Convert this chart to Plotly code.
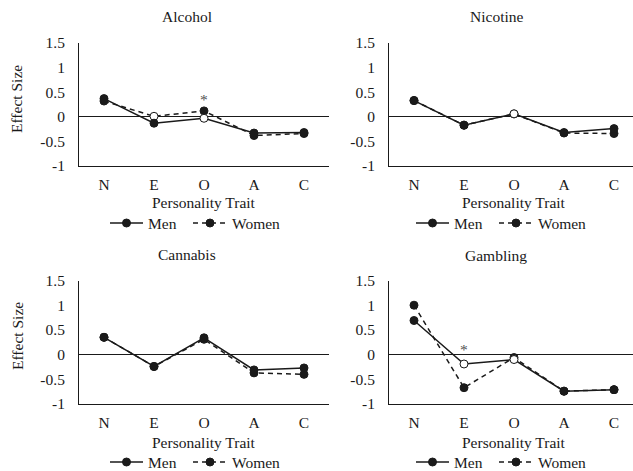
import plotly.graph_objects as go

traits = ["N", "E", "O", "A", "C"]
panels = ["Alcohol", "Nicotine", "Cannabis", "Gambling"]

alcohol_men = [0.37, -0.13, -0.03, -0.33, -0.32]
alcohol_women = [0.32, 0.01, 0.12, -0.38, -0.34]
nicotine_men = [0.33, -0.17, 0.06, -0.32, -0.24]
nicotine_women = [0.33, -0.17, 0.06, -0.33, -0.34]
cannabis_men = [0.35, -0.24, 0.34, -0.31, -0.27]
cannabis_women = [0.35, -0.24, 0.31, -0.37, -0.40]
gambling_men = [0.69, -0.19, -0.10, -0.74, -0.71]
gambling_women = [1.00, -0.67, -0.06, -0.74, -0.71]

# True = significant (filled marker), False = non-significant (open marker)
alcohol_men_sig = [True, True, False, True, True]
alcohol_women_sig = [True, False, True, True, True]
nicotine_men_sig = [True, True, False, True, True]
nicotine_women_sig = [True, True, False, True, True]
cannabis_men_sig = [True, True, True, True, True]
cannabis_women_sig = [True, True, True, True, True]
gambling_men_sig = [True, False, False, True, True]
gambling_women_sig = [True, True, True, True, True]

# sex-difference asterisks: (panel, trait, y)
asterisks = [("Alcohol", "O", 0.35), ("Gambling", "E", 0.10)]

ytick_vals = [-1, -0.5, 0, 0.5, 1, 1.5]
ytick_text = ["-1", "-0.5", "0", "0.5", "1", "1.5"]
series_names = ["Men", "Women"]

men = [alcohol_men, nicotine_men, cannabis_men, gambling_men]
women = [alcohol_women, nicotine_women, cannabis_women, gambling_women]
men_sig = [alcohol_men_sig, nicotine_men_sig, cannabis_men_sig, gambling_men_sig]
women_sig = [alcohol_women_sig, nicotine_women_sig, cannabis_women_sig, gambling_women_sig]

W, H = 633, 471
FONT = "Liberation Serif"
FS = 15.5
INK = "#1a1a1a"
DASH = "5px,4px"


def px_x(p):
    return p / W


def px_y(p):
    return 1 - p / H


# layout geometry (pixels)
x_dom = [(79, 329), (389, 633), (79, 329), (389, 633)]
y_dom = [(43, 166), (43, 166), (280.5, 404), (280.5, 404)]
x_ranges = [[-0.5, 4.5], [-0.5, 4.38], [-0.5, 4.5], [-0.5, 4.38]]
title_pos = [(187, 17), (496, 17), (187, 254), (496, 255)]
xtitle_pos = [(204, 202), (514, 202), (204, 442), (514, 442)]
ytitle_pos = [(17, 99), None, (17, 336), None]
legend_pos = [(110, 223), (416, 223), (110, 462), (416, 462)]

fig = go.Figure()
layout = dict(
    template="none",
    width=W, height=H, margin=dict(l=0, r=0, t=0, b=0, pad=0, autoexpand=False),
    paper_bgcolor="white", plot_bgcolor="white",
    font=dict(family=FONT, size=FS, color=INK),
    showlegend=False,
    annotations=[], shapes=[],
)


def text(s, x, y, anchor="center", angle=0, color=INK):
    layout["annotations"].append(dict(
        text=s, x=px_x(x), y=px_y(y), xref="paper", yref="paper",
        showarrow=False, xanchor=anchor, yanchor="middle", textangle=angle,
        font=dict(size=FS, family=FONT, color=color)))


def legend_item(x0, y, length, dash, label):
    layout["shapes"].append(dict(
        type="line", xref="paper", yref="paper",
        x0=px_x(x0), x1=px_x(x0 + length), y0=px_y(y), y1=px_y(y),
        line=dict(color=INK, width=1.5, dash=dash)))
    cx = x0 + length / 2
    layout["shapes"].append(dict(
        type="circle", xref="paper", yref="paper",
        x0=px_x(cx - 4), x1=px_x(cx + 4), y0=px_y(y + 4), y1=px_y(y - 4),
        fillcolor=INK, line=dict(color=INK, width=1)))
    text(label, x0 + length + 3, y, anchor="left")


for i, name in enumerate(panels):
    ax = "" if i == 0 else str(i + 1)
    xa, ya = "x" + ax, "y" + ax
    for label, vals, sig, dash in [
        ("Women", women[i], women_sig[i], DASH),
        ("Men", men[i], men_sig[i], "solid"),
    ]:
        fig.add_trace(go.Scatter(
            x=traits, y=vals, name=label, mode="lines+markers",
            xaxis=xa, yaxis=ya,
            line=dict(color=INK, width=1.5, dash=dash),
            marker=dict(size=8, color=[INK if s else "white" for s in sig],
                        line=dict(color=INK, width=1)),
            cliponaxis=False, hoverinfo="skip",
        ))
    layout["xaxis" + ax] = dict(
        domain=[px_x(x_dom[i][0]), px_x(x_dom[i][1])],
        anchor=ya, type="category", categoryorder="array", categoryarray=traits,
        range=x_ranges[i], showline=True, linecolor=INK, linewidth=1,
        showgrid=False, zeroline=False, ticks="", ticklabelstandoff=4,
        automargin=False,
        tickfont=dict(size=FS, family=FONT, color=INK), fixedrange=True,
    )
    layout["yaxis" + ax] = dict(
        domain=[px_y(y_dom[i][1]), px_y(y_dom[i][0])],
        anchor=xa, range=[-1, 1.5], tickvals=ytick_vals, ticktext=ytick_text,
        showline=True, linecolor=INK, linewidth=1, showgrid=False,
        zeroline=True, zerolinecolor=INK, zerolinewidth=1, ticks="",
        ticklabelstandoff=10, automargin=False,
        tickfont=dict(size=FS, family=FONT, color=INK),
        fixedrange=True,
    )
    text(name, *title_pos[i])
    text("Personality Trait", *xtitle_pos[i])
    if ytitle_pos[i]:
        text("Effect Size", *ytitle_pos[i], angle=-90)
    lx, ly = legend_pos[i]
    legend_item(lx, ly, 33, "solid", series_names[0])
    legend_item(lx + 83, ly, 34, DASH, series_names[1])
    for pname, trait, yv in asterisks:
        if pname == name:
            layout["annotations"].append(dict(
                text="*", x=trait, y=yv, xref=xa, yref=ya, showarrow=False,
                xanchor="center", yanchor="middle",
                font=dict(size=FS, family=FONT, color="#505050")))

fig.update_layout(**layout)
fig.write_html(
    "out.html",
    config={"displayModeBar": False, "staticPlot": True},
    post_script="document.body.style.margin='0';document.body.style.overflow='hidden';",
)
